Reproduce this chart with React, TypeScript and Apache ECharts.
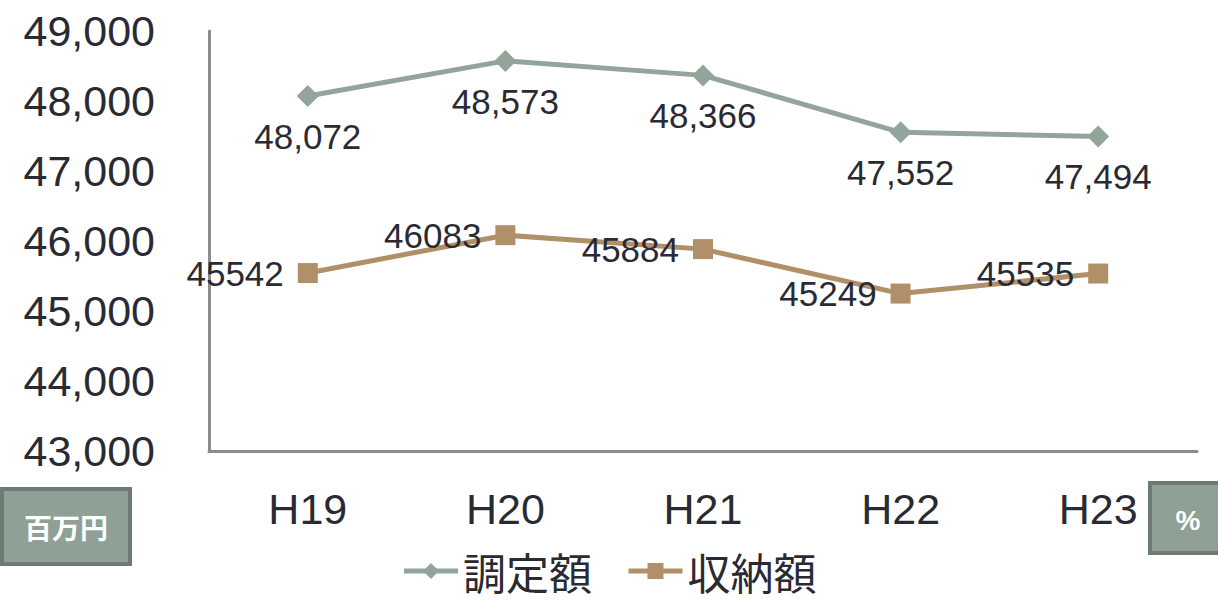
import React, { useEffect, useRef } from "react";
import * as echarts from "echarts";

const categories = ["H19", "H20", "H21", "H22", "H23"];
const assessed = [48072, 48573, 48366, 47552, 47494];
const collected = [45542, 46083, 45884, 45249, 45535];
const seriesNames = ["調定額", "収納額"];
const yMin = 43000;
const yMax = 49000;
const yStep = 1000;

const FONT = "'Liberation Sans', Arial, 'Noto Sans CJK JP', sans-serif";
const CJK = "'Noto Sans CJK JP', 'Liberation Sans', sans-serif";

export default function App() {
  const ref = useRef<HTMLDivElement>(null);
  useEffect(() => {
    if (!ref.current) return;
    const chart = echarts.init(ref.current, null, { renderer: "svg" });
    chart.setOption({
      animation: false,
      backgroundColor: "#ffffff",
      grid: { left: 209, top: 31, right: 21, bottom: 150, containLabel: false },
      legend: {
        top: 548,
        left: "center",
        padding: 0,
        itemWidth: 54,
        itemHeight: 20,
        itemGap: 34,
        lineStyle: { width: 5 },
        textStyle: { fontFamily: CJK, fontSize: 43, color: "#2a2a33", lineHeight: 46 },
        data: [seriesNames[0], seriesNames[1]],
      },
      xAxis: {
        type: "category",
        data: categories,
        boundaryGap: true,
        axisLine: { lineStyle: { color: "#8c8c8c", width: 3 } },
        axisTick: { show: false },
        axisLabel: { margin: 36, fontFamily: FONT, fontSize: 43, color: "#2a2a33" },
      },
      yAxis: {
        type: "value",
        min: yMin,
        max: yMax,
        interval: yStep,
        axisLine: { show: true, lineStyle: { color: "#8c8c8c", width: 3 } },
        axisTick: { show: false },
        splitLine: { show: false },
        axisLabel: {
          margin: 54,
          fontFamily: FONT,
          fontSize: 43,
          color: "#2a2a33",
          formatter: (v: number) => v.toLocaleString("en-US"),
        },
      },
      series: [
        {
          name: seriesNames[0],
          type: "line",
          data: assessed,
          symbol: "diamond",
          symbolSize: 22,
          itemStyle: { color: "#93a59b" },
          lineStyle: { color: "#93a59b", width: 5 },
          label: {
            show: true,
            position: "bottom",
            distance: 12,
            fontFamily: FONT,
            fontSize: 35,
            color: "#2a2a33",
            formatter: (p: any) => Number(p.value).toLocaleString("en-US"),
          },
        },
        {
          name: seriesNames[1],
          type: "line",
          data: collected,
          symbol: "rect",
          symbolSize: 20,
          itemStyle: { color: "#b09068" },
          lineStyle: { color: "#b09068", width: 5 },
          label: {
            show: true,
            position: "left",
            distance: 14,
            fontFamily: FONT,
            fontSize: 35,
            color: "#2a2a33",
            formatter: (p: any) => String(p.value),
          },
        },
      ],
      graphic: [
        {
          type: "rect",
          shape: { x: 2, y: 489, width: 128, height: 75 },
          style: { fill: "#8fa096", stroke: "#6e7b72", lineWidth: 4 },
        },
        {
          type: "text",
          x: 66,
          y: 527,
          style: {
            text: "百万円",
            fill: "#ffffff",
            font: "bold 28px 'Noto Sans CJK JP', sans-serif",
            align: "center",
            verticalAlign: "middle",
          },
        },
        {
          type: "rect",
          shape: { x: 1150, y: 483, width: 72, height: 70 },
          style: { fill: "#8fa096", stroke: "#6e7b72", lineWidth: 4 },
        },
        {
          type: "text",
          x: 1188,
          y: 520,
          style: {
            text: "%",
            fill: "#ffffff",
            font: "bold 28px 'Liberation Sans', Arial, sans-serif",
            align: "center",
            verticalAlign: "middle",
          },
        },
      ],
    });
    return () => chart.dispose();
  }, []);
  return <div ref={ref} style={{ width: 1218, height: 601, position: "absolute", left: 0, top: 0 }} />;
}
